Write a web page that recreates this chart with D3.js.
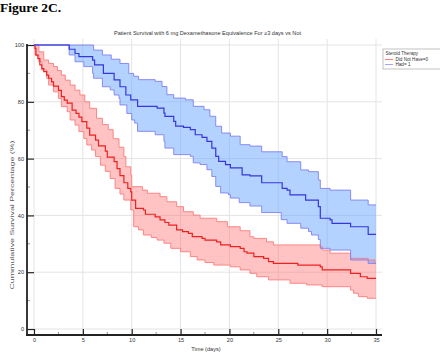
<!DOCTYPE html>
<html>
<head>
<meta charset="utf-8">
<script src="https://cdn.jsdelivr.net/npm/d3@7"></script>
<style>
    body { margin: 0; background: #fff; }
    svg { display: block; font-family: "Liberation Sans", Arial, sans-serif; }
</style>
</head>
<body>
<svg id="chart" width="440" height="353"></svg>
<script>
// tick values
const xTicks = [0, 5, 10, 15, 20, 25, 30, 35];
const xMinorTicks = [2.5, 7.5, 12.5, 17.5, 22.5, 27.5, 32.5];
const yTicks = [0, 20, 40, 60, 80, 100];
const yMinorTicks = [10, 30, 50, 70, 90];

const legendTitle = "Steroid Therapy";
const groupNames = ["Did Not Have=0", "Had= 1"];

// Kaplan-Meier steps: [day, survival %] - value holds until the next step
const redSurvival = [[0,100],[0.1,98.8],[0.2,96.4],[0.4,95.2],[0.6,93],[0.8,91.7],[1.0,90.6],[1.3,89.4],[1.5,88.3],[1.8,87],[2.0,85.5],[2.5,84],[2.8,81.8],[3.1,80.6],[3.4,79.5],[3.9,77.1],[4.3,75.9],[4.6,74.6],[4.9,73],[5.4,70.7],[5.7,68.3],[6.3,66.5],[6.6,64.5],[7.3,62.6],[7.5,60.5],[8.2,58.9],[8.5,56.5],[8.8,54],[9.2,51.5],[9.6,49.5],[9.9,48.3],[10.0,45.4],[10.4,42.5],[11.2,41.9],[11.4,40.4],[12.4,39.5],[12.9,38.4],[13.4,37.5],[13.8,36.6],[14.6,34.9],[15.2,34.3],[15.8,33.7],[16.2,32.5],[17.2,31.9],[17.5,31.3],[18.7,30.7],[19.1,29.6],[20.1,29],[21.1,28.4],[21.5,27.2],[21.8,26.7],[22.5,25.5],[23.5,24.9],[24.0,23.7],[24.5,23.1],[27.0,22.5],[29.3,21.9],[29.5,20.8],[32.4,19.6],[33.4,18.4],[34.1,17.8],[35,17.8]];
const redUpper = [[0,100],[0.5,97.6],[1.0,94.7],[1.5,93.5],[2.0,92.4],[2.4,91],[2.8,89.4],[3.2,87.6],[3.7,85.9],[4.2,84.1],[4.7,82.4],[5.2,80],[5.7,77.7],[6.4,74.2],[7.0,72],[7.6,70.2],[8.1,67],[8.7,64],[9.2,60.7],[9.4,57.1],[9.9,54.2],[10.0,50.1],[11.1,48.9],[11.6,47.8],[12.9,46.6],[13.6,44.8],[14.6,43.1],[15.3,41.3],[16.3,40.1],[17.0,39],[18.7,37.8],[19.8,36],[21.1,34.6],[22.1,32.5],[22.5,31.9],[23.8,30.7],[24.5,29.6],[29.3,29],[29.5,27.8],[30.3,26.7],[32.4,24.9],[34.2,24.3],[34.9,23.1],[35,23.1]];
const redLower = [[0,100],[0.1,96.5],[0.5,94.1],[0.8,91.2],[1.3,88.3],[1.5,85.9],[2.0,83.5],[2.5,81.2],[2.8,78.3],[3.4,76.5],[3.7,73.6],[4.2,71.8],[4.6,69.5],[5.1,67.1],[5.4,64.8],[5.9,63],[6.3,60.7],[6.8,57.7],[7.3,55.5],[7.8,53],[8.3,49.5],[8.8,47.5],[9.2,45.4],[9.9,41.9],[10.2,36],[10.7,34.9],[11.2,33.1],[12.0,32.2],[12.6,31.3],[13.3,30.2],[14.0,28.4],[15.0,27.2],[16.0,25.5],[16.7,24.3],[17.5,23.4],[18.4,22.5],[20.1,21.9],[21.1,20.8],[22.1,19.6],[22.8,18.4],[24.0,17.3],[26.2,16.1],[27.9,15.5],[29.5,14.9],[32.4,13.7],[32.7,12.6],[33.2,11.4],[34.1,10.8],[35,10.8]];

const blueSurvival = [[0,100],[3.6,98.5],[4.2,97],[4.6,95.9],[6.0,94.7],[6.2,93],[7.1,90],[8.2,87.7],[8.8,85.3],[9.4,82.4],[9.9,80.7],[10.6,78.4],[12.6,77.8],[13.3,76],[13.4,74.9],[14.3,73.1],[14.5,71.4],[15.3,71],[16.0,70.2],[16.5,68.4],[17.2,67.5],[17.7,66.1],[18.2,63.7],[18.6,60.8],[18.9,59],[19.6,57.9],[20.1,56.7],[21.3,54.3],[22.1,53.9],[23.3,51.5],[25.4,49.5],[25.9,48.9],[26.2,47.2],[27.8,45.4],[29.1,43.1],[29.3,39],[30.3,38.4],[30.5,37.2],[32.4,36],[34.2,33.3],[35,33.3]];
const blueUpper = [[0,100],[6.1,98.2],[7.0,96.5],[7.9,95],[8.8,93.5],[9.7,90],[10.2,89],[10.7,87.8],[12.4,87.2],[13.1,85.4],[13.6,82.5],[14.3,81.3],[15.5,80.7],[16.3,78.4],[17.4,77.2],[18.0,74.9],[18.6,71.4],[19.2,69],[20.1,67.9],[21.1,64.9],[22.1,64.4],[23.3,62.4],[25.4,60.7],[25.9,58.9],[27.3,56],[28.1,55.4],[29.1,52.5],[29.3,49.5],[30.3,48.9],[32.4,45.4],[34.2,43.7],[35,43.7]];
const blueLower = [[0,100],[3.6,96.5],[4.2,94.1],[5.1,92.4],[6.0,90],[6.1,88.3],[7.0,85.3],[7.8,84.2],[8.2,82.4],[8.7,81.2],[8.8,78.9],[9.5,75.9],[10.0,73.6],[10.3,72.5],[10.6,69.6],[12.4,68.4],[13.3,66.1],[13.4,63.7],[14.3,61.4],[16.0,60.8],[16.3,58.5],[17.0,57.9],[17.7,56.1],[18.2,53.7],[18.6,50.2],[19.1,47.9],[19.9,47.3],[20.1,46.1],[21.0,44.5],[22.1,43.3],[23.3,41],[25.3,38.5],[25.9,37.2],[27.3,35.5],[28.1,34.3],[28.4,33.1],[29.1,31.5],[29.3,28.4],[30.3,27.8],[32.4,24.3],[34.2,23.1],[35,23.1]];

const svg = d3.select("#chart");

const x = d3.scaleLinear().domain([0, 35]).range([34, 376]);
const y = d3.scaleLinear().domain([0, 100]).range([329, 45]);

const yAxisX = 27;
const xAxisY = 335;
const axisColor = "#222";

// figure label
svg.append("text")
    .attr("x", 0)
    .attr("y", 12)
    .style("font-family", '"Liberation Serif", "DejaVu Serif", serif')
    .style("font-weight", "bold")
    .style("font-size", "13.5px")
    .text("Figure 2C.");

// title
svg.append("text")
    .attr("x", 207.5)
    .attr("y", 35)
    .attr("text-anchor", "middle")
    .style("font-size", "5.6px")
    .attr("fill", "#333")
    .text("Patient Survival with 6 mg Dexamethasone Equivalence For \u22653 days vs Not");

// grid
const grid = svg.append("g").attr("stroke", "#e4e4e4").attr("stroke-width", 1);
grid.selectAll(".vgrid")
    .data(xTicks)
    .enter()
    .append("line")
    .attr("x1", d => x(d)).attr("x2", d => x(d))
    .attr("y1", 39).attr("y2", xAxisY);
grid.selectAll(".hgrid")
    .data(yTicks)
    .enter()
    .append("line")
    .attr("x1", x(0)).attr("x2", 382)
    .attr("y1", d => y(d)).attr("y2", d => y(d));

// step generators
const stepLine = d3.line()
    .x(d => x(d[0]))
    .y(d => y(d[1]))
    .curve(d3.curveStepAfter);
const stepBack = d3.line()
    .x(d => x(d[0]))
    .y(d => y(d[1]))
    .curve(d3.curveStepBefore);

function bandPath(upper, lower) {
    return stepLine(upper) + stepBack(lower.slice().reverse()).replace(/^M/, "L") + "Z";
}

const groups = [
    { survival: redSurvival, upper: redUpper, lower: redLower, fill: "rgba(255,105,105,0.4)", edge: "#ff7a7a", line: "#ee2020" },
    { survival: blueSurvival, upper: blueUpper, lower: blueLower, fill: "rgba(105,165,255,0.5)", edge: "#7f80f2", line: "#3636dc" }
];

const plot = svg.append("g");

groups.forEach(g => {
    plot.append("path")
        .attr("d", bandPath(g.upper, g.lower))
        .attr("fill", g.fill)
        .attr("stroke", "none");
});

groups.forEach(g => {
    [g.upper, g.lower].forEach(edge => {
        plot.append("path")
            .attr("d", stepLine(edge))
            .attr("fill", "none")
            .attr("stroke", g.edge)
            .attr("stroke-width", 0.9);
    });
    plot.append("path")
        .attr("d", stepLine(g.survival))
        .attr("fill", "none")
        .attr("stroke", g.line)
        .attr("stroke-width", 1.2);
});

// y axis
const yAxis = svg.append("g")
    .attr("transform", `translate(${yAxisX},0)`)
    .call(d3.axisLeft(y).tickValues(yTicks).tickSizeInner(-7).tickSizeOuter(0).tickPadding(3));
yAxis.select(".domain").remove();
yAxis.selectAll(".tick line").attr("stroke", axisColor).attr("stroke-width", 1.2);
yAxis.selectAll(".tick text").attr("fill", "#333").style("font-size", "5.6px");

svg.append("g")
    .selectAll("line")
    .data(yMinorTicks)
    .enter()
    .append("line")
    .attr("x1", yAxisX).attr("x2", yAxisX + 3)
    .attr("y1", d => y(d)).attr("y2", d => y(d))
    .attr("stroke", "#777")
    .attr("stroke-width", 0.8);

// x axis
const xAxis = svg.append("g")
    .attr("transform", `translate(0,${xAxisY})`)
    .call(d3.axisBottom(x).tickValues(xTicks).tickSizeInner(-6).tickSizeOuter(0).tickPadding(3));
xAxis.select(".domain").remove();
xAxis.selectAll(".tick line").attr("stroke", axisColor).attr("stroke-width", 1.2);
xAxis.selectAll(".tick text").attr("fill", "#333").style("font-size", "5.6px");

svg.append("g")
    .selectAll("line")
    .data(xMinorTicks)
    .enter()
    .append("line")
    .attr("x1", d => x(d)).attr("x2", d => x(d))
    .attr("y1", xAxisY).attr("y2", xAxisY - 3)
    .attr("stroke", "#777")
    .attr("stroke-width", 0.8);

// axis lines
svg.append("line")
    .attr("x1", yAxisX).attr("x2", yAxisX)
    .attr("y1", y(100) - 1).attr("y2", xAxisY + 1)
    .attr("stroke", axisColor).attr("stroke-width", 1.8);
svg.append("line")
    .attr("x1", yAxisX - 1).attr("x2", 382)
    .attr("y1", xAxisY).attr("y2", xAxisY)
    .attr("stroke", axisColor).attr("stroke-width", 1.8);

// axis titles
svg.append("text")
    .attr("x", 206)
    .attr("y", 351)
    .attr("text-anchor", "middle")
    .attr("fill", "#333")
    .style("font-size", "5.6px")
    .text("Time (days)");

svg.append("text")
    .attr("transform", "translate(14,215) rotate(-90)")
    .attr("text-anchor", "middle")
    .attr("fill", "#555")
    .style("font-size", "5.8px")
    .attr("textLength", 149)
    .attr("lengthAdjust", "spacingAndGlyphs")
    .text("Cummulative Survival Percentage (%)");

// legend
const legend = svg.append("g").attr("transform", "translate(383,49)");
legend.append("rect")
    .attr("width", 60)
    .attr("height", 20)
    .attr("fill", "#fff")
    .attr("stroke", "#999")
    .attr("stroke-width", 0.6);
legend.append("text")
    .attr("x", 2.5)
    .attr("y", 6)
    .attr("fill", "#333")
    .style("font-size", "4.6px")
    .text(legendTitle);

const legendColors = ["#ff5c5c", "#8a8aff"];
groupNames.forEach((name, i) => {
    const row = legend.append("g").attr("transform", `translate(0,${10.5 + i * 5})`);
    row.append("line")
        .attr("x1", 2).attr("x2", 10)
        .attr("stroke", legendColors[i])
        .attr("stroke-width", 0.8);
    row.append("text")
        .attr("x", 12.5)
        .attr("y", 1.6)
        .attr("fill", "#333")
        .style("font-size", "4.6px")
        .text(name);
});
</script>
</body>
</html>
